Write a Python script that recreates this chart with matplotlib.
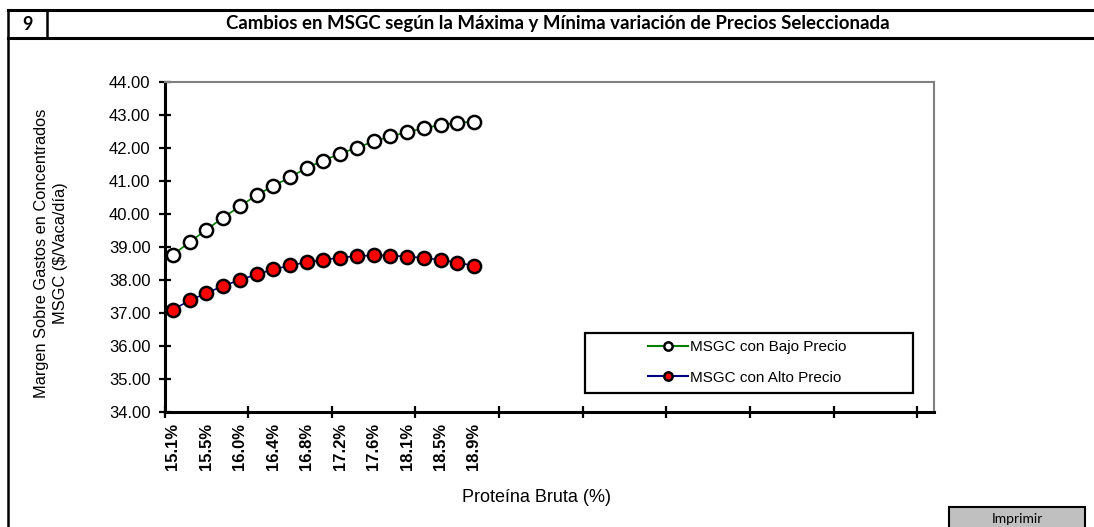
import matplotlib
matplotlib.use("Agg")
import matplotlib.pyplot as plt
from matplotlib.lines import Line2D
from matplotlib.patches import Rectangle

# Datos
proteina = [15.1, 15.3, 15.5, 15.7, 16.0, 16.2, 16.4, 16.6, 16.8, 17.0,
            17.2, 17.4, 17.6, 17.9, 18.1, 18.3, 18.5, 18.7, 18.9]
msgc_bajo = [38.76, 39.15, 39.52, 39.89, 40.23, 40.57, 40.85, 41.11, 41.40, 41.62,
             41.83, 42.01, 42.20, 42.35, 42.48, 42.60, 42.70, 42.76, 42.80]
msgc_alto = [37.10, 37.38, 37.60, 37.82, 38.00, 38.17, 38.32, 38.44, 38.54, 38.61,
             38.68, 38.72, 38.75, 38.74, 38.71, 38.67, 38.61, 38.53, 38.43]
y_ticks = [34, 35, 36, 37, 38, 39, 40, 41, 42, 43, 44]
n_categorias = 46

W, H = 1094, 527
plt.rcParams['font.family'] = ['Liberation Sans', 'DejaVu Sans']

fig = plt.figure(figsize=(W / 100, H / 100), dpi=100)


def px(x, y):
    return x / W, 1 - y / H


# Marco de la hoja (encabezado)
def linea(x0, y0, x1, y1, lw):
    a, b = px(x0, y0)
    c, d = px(x1, y1)
    fig.add_artist(Line2D([a, c], [b, d], transform=fig.transFigure,
                          color='black', linewidth=lw, solid_capstyle='projecting'))


linea(8, 10, W, 10, 2.2)
linea(8, 38, W, 38, 2.2)
linea(8, 10, 8, H, 1.8)
linea(47, 10, 47, 38, 1.8)
fig.text(*px(27, 24), '9', ha='center', va='center', fontsize=13,
         fontweight='bold', family='Lato')
fig.text(*px(558, 24), 'Cambios en MSGC según la Máxima y Mínima variación de Precios Seleccionada',
         ha='center', va='center', fontsize=13.4, fontweight='bold', family='Lato')

# Área del gráfico
x0, y0 = px(164.5, 412)
x1, y1 = px(934, 82)
ax = fig.add_axes([x0, y0, x1 - x0, y1 - y0])

xs = [i + 0.5 for i in range(len(proteina))]
ax.plot(xs, msgc_bajo, color='#008000', linewidth=1.2, marker='o', markersize=9.5,
        markerfacecolor='white', markeredgecolor='black', markeredgewidth=1.8, zorder=3)
ax.plot(xs, msgc_alto, color='#000080', linewidth=1.2, marker='o', markersize=9.5,
        markerfacecolor='#ff0000', markeredgecolor='black', markeredgewidth=1.8, zorder=3)

ax.set_xlim(0, n_categorias)
ax.set_ylim(y_ticks[0], y_ticks[-1])
ax.set_yticks(y_ticks)
ax.set_yticklabels([f'{v:.2f}' for v in y_ticks], fontsize=12)

ax.set_xticks(range(0, n_categorias, 5))
ax.set_xticklabels([])
ax.set_xticks([xs[i] for i in range(0, len(proteina), 2)], minor=True)
ax.set_xticklabels([f'{proteina[i]:.1f}%' for i in range(0, len(proteina), 2)],
                   minor=True, rotation=90, fontsize=12, fontweight='bold')
ax.tick_params(axis='x', which='minor', length=0, pad=8)
ax.tick_params(axis='both', which='major', direction='inout', length=8, width=1.6,
               color='black')
ax.tick_params(axis='y', pad=6)

for s in ['left', 'bottom']:
    ax.spines[s].set_linewidth(2.2)
    ax.spines[s].set_color('black')
for s in ['top', 'right']:
    ax.spines[s].set_linewidth(1.5)
    ax.spines[s].set_color('#808080')

ax.set_xlabel('Proteína Bruta (%)', fontsize=13, labelpad=14)
ax.xaxis.set_label_coords((537 - 164.5) / 769.5, -(498 - 412) / 330)
ax.xaxis.label.set_va('center')
fig.text(*px(51, 253), 'Margen Sobre Gastos en Concentrados\nMSGC ($/Vaca/día)',
         rotation=90, ha='center', va='center', fontsize=11.8, linespacing=1.4)

# Leyenda
lx0, ly0 = (585 - 164.5) / 769.5, (412 - 393) / 330
lw_, lh_ = 328 / 769.5, 60 / 330
ax.add_patch(Rectangle((lx0, ly0), lw_, lh_, transform=ax.transAxes, fill=False,
                       edgecolor='black', linewidth=1.6, zorder=5))
handles = [
    Line2D([], [], color='#008000', linewidth=1.5, marker='o', markersize=6,
           markerfacecolor='white', markeredgecolor='black', markeredgewidth=1.8),
    Line2D([], [], color='#000080', linewidth=1.5, marker='o', markersize=6,
           markerfacecolor='#ff0000', markeredgecolor='black', markeredgewidth=1.8),
]
ax.legend(handles, ['MSGC con Bajo Precio', 'MSGC con Alto Precio'],
          loc='center', bbox_to_anchor=(lx0 + lw_ / 2 - 0.002, ly0 + lh_ / 2 + 0.002),
          frameon=False, fontsize=11, handlelength=2.6, handletextpad=0.15,
          labelspacing=1.1)

# Botón "Imprimir"
bx, by = px(949, 527)
bx1, by1 = px(1085, 507)
fig.add_artist(Rectangle((bx, by - 0.01), bx1 - bx, by1 - by + 0.01,
                         transform=fig.transFigure, facecolor='#c0c0c0',
                         edgecolor='black', linewidth=1.5, clip_on=False))
fig.text(*px(1017, 519), 'Imprimir', ha='center', va='center', fontsize=10,
         family='Lato')

fig.savefig('out.png', dpi=100, facecolor='white')
